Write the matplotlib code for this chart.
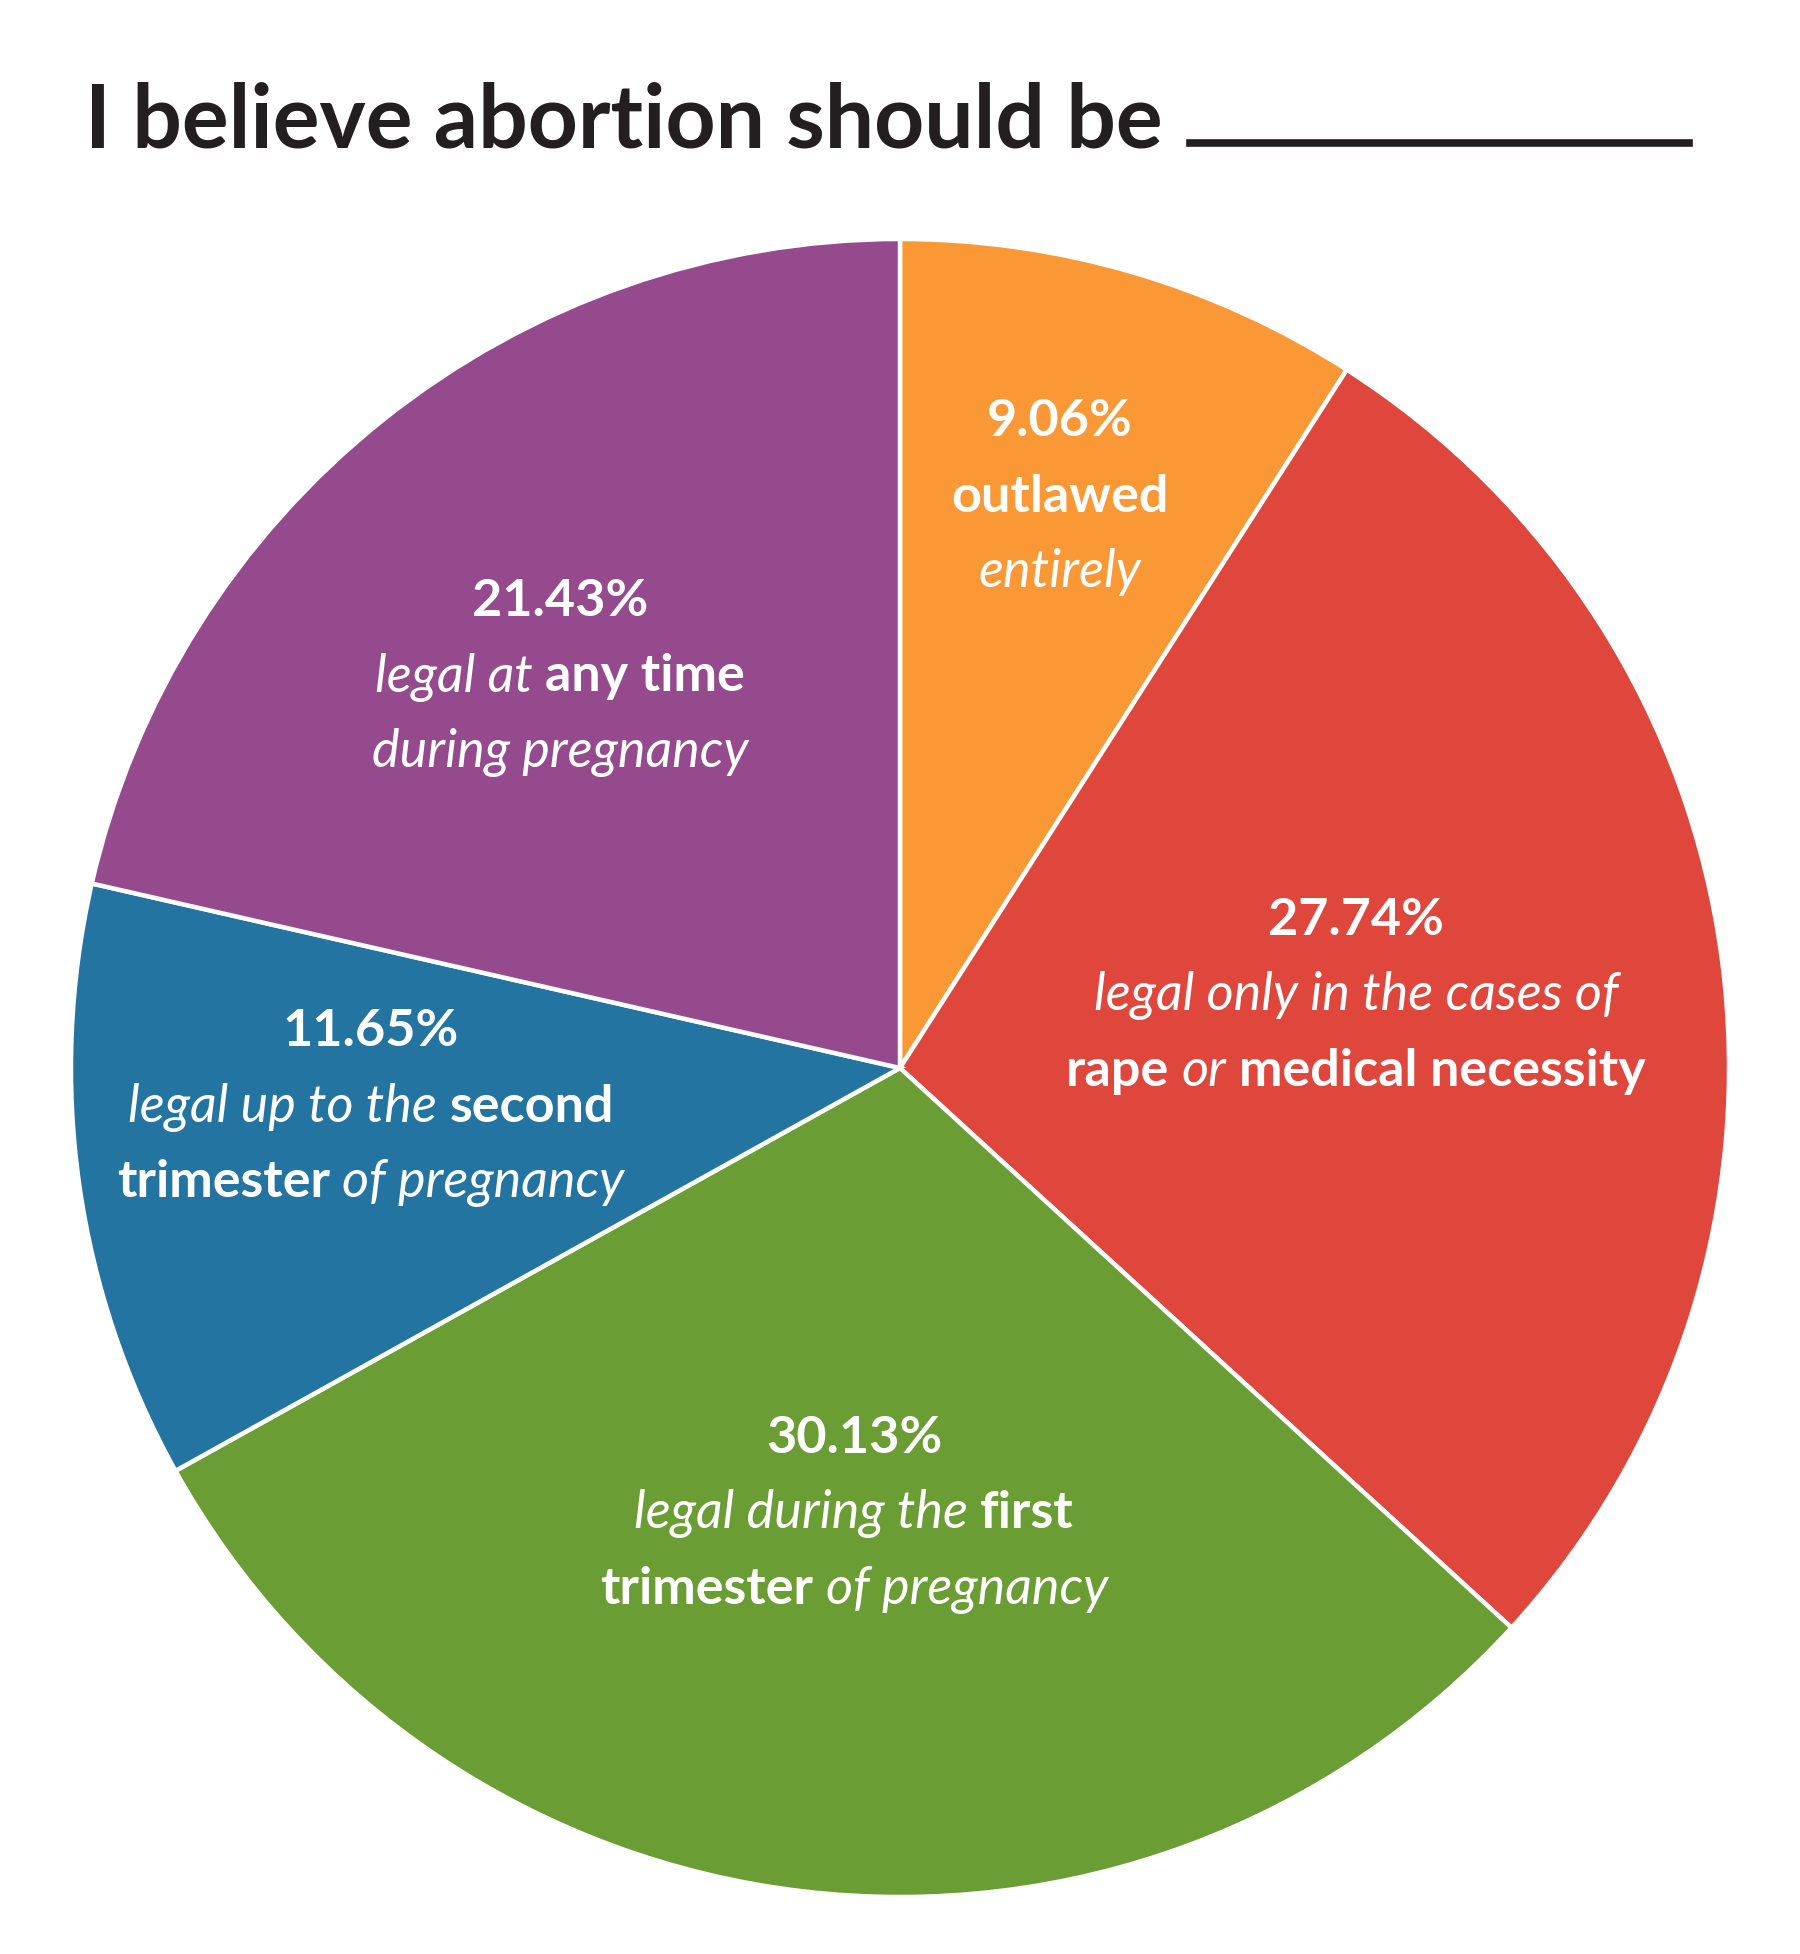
import matplotlib
matplotlib.use("Agg")
import matplotlib.pyplot as plt

# data
categories = ["outlawed entirely",
              "legal only in the cases of rape or medical necessity",
              "legal during the first trimester of pregnancy",
              "legal up to the second trimester of pregnancy",
              "legal at any time during pregnancy"]
shares = [9.06, 27.74, 30.13, 11.65, 21.43]
colors = ["#FB9836", "#DF463C", "#6A9D33", "#2374A0", "#954A8E"]

# label lines: (text, bold?) segments per line
label_lines = [
    [[("outlawed", True)], [("entirely", False)]],
    [[("legal only in the cases of", False)],
     [("rape", True), ("or", False), ("medical necessity", True)]],
    [[("legal during the", False), ("first", True)],
     [("trimester", True), ("of pregnancy", False)]],
    [[("legal up to the", False), ("second", True)],
     [("trimester", True), ("of pregnancy", False)]],
    [[("legal at", False), ("any time", True)],
     [("during pregnancy", False)]],
]
# label anchor (pixel x, first baseline y)
label_pos = [(1060, 436), (1356, 935), (854, 1453), (371, 1046), (560, 616)]

W, H = 1800, 1954
FONT = "Lato"
FS = 37.5
LINE = 75.5

fig = plt.figure(figsize=(W / 100, H / 100), dpi=100)
fig.patch.set_facecolor("white")

cx, cy, r = 900, 1068, 829
ax = fig.add_axes([(cx - r) / W, 1 - (cy + r) / H, 2 * r / W, 2 * r / H])
ax.pie(shares, colors=colors, startangle=90, counterclock=False, radius=1,
       wedgeprops=dict(edgecolor="white", linewidth=3.2))
ax.set_xlim(-1, 1)
ax.set_ylim(-1, 1)
ax.set_aspect("equal")
ax.axis("off")

renderer = fig.canvas.get_renderer()


def text_at(x, y, s, bold, **kw):
    return fig.text(x / W, 1 - y / H, s, fontsize=kw.get("size", FS),
                    family=FONT, color=kw.get("color", "white"),
                    fontweight="bold" if bold else "normal",
                    style="normal" if bold else "italic",
                    ha="left", va="baseline")


def width_of(s, bold):
    t = text_at(0, 0, s, bold)
    w = t.get_window_extent(renderer).width
    t.remove()
    return w


space = width_of("x x", False) - width_of("xx", False)


def draw_line(xc, y, parts):
    widths = [width_of(s, b) for s, b in parts]
    total = sum(widths) + space * (len(parts) - 1)
    x = xc - total / 2
    for (s, b), w in zip(parts, widths):
        text_at(x, y, s, b)
        x += w + space


for share, lines, (x, y) in zip(shares, label_lines, label_pos):
    draw_line(x, y, [("%.2f%%" % share, True)])
    for i, ln in enumerate(lines):
        draw_line(x, y + LINE * (i + 1), ln)

# title with blank line
fig.text(85 / W, 1 - 147 / H, "I believe abortion should be", fontsize=63,
         family=FONT, fontweight="bold", color="#231F20", ha="left",
         va="baseline")
fig.add_artist(plt.Line2D([1190 / W, 1689 / W], [1 - 143 / H, 1 - 143 / H],
                          color="#231F20", linewidth=5.5,
                          transform=fig.transFigure))

fig.savefig("out.png", dpi=100, facecolor="white")
